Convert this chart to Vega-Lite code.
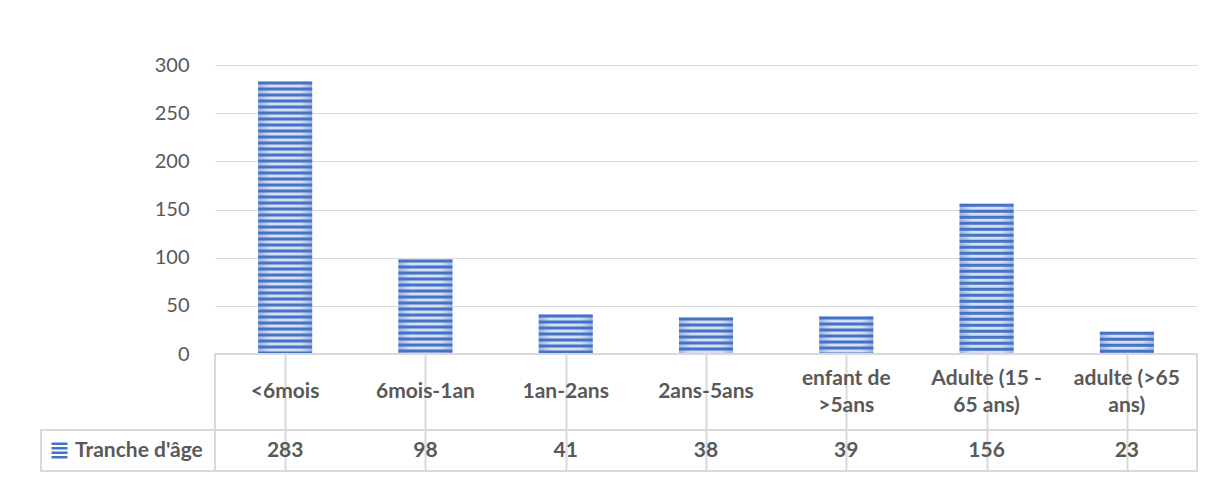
{
  "$schema": "https://vega.github.io/schema/vega-lite/v6.json",
  "background": "white",
  "padding": {"left": 40, "top": 54, "right": 5, "bottom": 5},
  "columns": 2,
  "spacing": 0,
  "bounds": "flush",
  "datasets": {
    "tranches": [
      {"tranche": "<6mois", "libelle": "<6mois", "effectif": 283},
      {"tranche": "6mois-1an", "libelle": "6mois-1an", "effectif": 98},
      {"tranche": "1an-2ans", "libelle": "1an-2ans", "effectif": 41},
      {"tranche": "2ans-5ans", "libelle": "2ans-5ans", "effectif": 38},
      {"tranche": "enfant de >5ans", "libelle": "enfant de\n>5ans", "effectif": 39},
      {"tranche": "Adulte (15 - 65 ans)", "libelle": "Adulte (15 -\n65 ans)", "effectif": 156},
      {"tranche": "adulte (>65 ans)", "libelle": "adulte (>65\nans)", "effectif": 23}
    ]
  },
  "concat": [
    {
      "width": 174,
      "height": 289,
      "data": {"values": []},
      "mark": "point"
    },
    {
      "width": 982,
      "height": 289,
      "data": {"name": "tranches"},
      "encoding": {
        "x": {
          "field": "tranche",
          "type": "nominal",
          "sort": null,
          "scale": {"paddingInner": 0, "paddingOuter": 0},
          "axis": null
        }
      },
      "layer": [
        {
          "mark": {
            "type": "bar",
            "width": 54,
            "fill": {
              "gradient": "linear",
              "x1": 0, "x2": 1, "y1": 0, "y2": 0,
              "stops": [
                {"offset": 0, "color": "#9db3df"},
                {"offset": 0.22, "color": "#d5dff3"},
                {"offset": 0.78, "color": "#d5dff3"},
                {"offset": 1, "color": "#9db3df"}
              ]
            }
          },
          "encoding": {
            "y": {
              "field": "effectif",
              "type": "quantitative",
              "scale": {"domain": [0, 300]},
              "axis": {
                "values": [0, 50, 100, 150, 200, 250, 300],
                "grid": true,
                "gridColor": "#d9d9d9",
                "gridWidth": 1,
                "domain": false,
                "ticks": false,
                "labelFont": "Lato",
                "labelFontSize": 20,
                "labelColor": "#595959",
                "labelPadding": 26,
                "title": null
              }
            }
          }
        },
        {
          "mark": {
            "type": "rule",
            "strokeWidth": 54,
            "strokeDash": [3, 3],
            "strokeCap": "butt",
            "color": "#4472c4"
          },
          "encoding": {
            "y": {"field": "effectif", "type": "quantitative"},
            "y2": {"datum": 0}
          }
        }
      ]
    },
    {
      "width": 174,
      "height": 76,
      "data": {"values": []},
      "mark": "point"
    },
    {
      "width": 982,
      "height": 76,
      "view": {"stroke": "#d9d9d9", "strokeWidth": 2},
      "data": {"name": "tranches"},
      "encoding": {
        "x": {
          "field": "tranche",
          "type": "nominal",
          "sort": null,
          "scale": {"paddingInner": 0, "paddingOuter": 0},
          "axis": {
            "grid": true,
            "gridColor": "#d9d9d9",
            "gridWidth": 2,
            "bandPosition": 0,
            "labels": false,
            "ticks": false,
            "domain": false,
            "title": null
          }
        },
        "text": {"field": "libelle", "type": "nominal"}
      },
      "layer": [
        {
          "transform": [{"filter": "indexof(datum.libelle, '\\n') < 0"}],
          "mark": {
            "type": "text",
            "font": "Lato",
            "fontWeight": "bold",
            "fontSize": 21,
            "color": "#595959"
          }
        },
        {
          "transform": [{"filter": "indexof(datum.libelle, '\\n') >= 0"}],
          "mark": {
            "type": "text",
            "font": "Lato",
            "fontWeight": "bold",
            "fontSize": 21,
            "color": "#595959",
            "lineBreak": "\n",
            "lineHeight": 27,
            "dy": -13.5
          }
        }
      ]
    },
    {
      "width": 174,
      "height": 41,
      "view": {"stroke": "#d9d9d9", "strokeWidth": 2},
      "data": {"values": []},
      "mark": "point"
    },
    {
      "width": 982,
      "height": 41,
      "view": {"stroke": "#d9d9d9", "strokeWidth": 2},
      "layer": [
        {
          "data": {"name": "tranches"},
          "mark": {
            "type": "text",
            "font": "Lato",
            "fontWeight": "bold",
            "fontSize": 21,
            "color": "#595959"
          },
          "encoding": {
            "x": {
              "field": "tranche",
              "type": "nominal",
              "sort": null,
              "scale": {"paddingInner": 0, "paddingOuter": 0},
              "axis": {
                "grid": true,
                "gridColor": "#d9d9d9",
                "gridWidth": 2,
                "bandPosition": 0,
                "labels": false,
                "ticks": false,
                "domain": false,
                "title": null
              }
            },
            "text": {"field": "effectif", "type": "quantitative"}
          }
        },
        {
          "data": {"values": []},
          "mark": {"type": "square"},
          "encoding": {
            "color": {
              "field": "serie",
              "type": "nominal",
              "scale": {"domain": ["Tranche d'âge"], "range": ["#4472c4"]},
              "legend": {
                "orient": "none",
                "legendX": 8,
                "legendY": 375,
                "title": null,
                "padding": 0,
                "symbolType": "M-1,-1H1V-0.7H-1Z M-1,-0.43H1V-0.14H-1Z M-1,0.14H1V0.43H-1Z M-1,0.7H1V1H-1Z",
                "symbolSize": 256,
                "symbolStrokeWidth": 0,
                "symbolOpacity": 1,
                "labelFont": "Lato",
                "labelFontSize": 21,
                "labelFontWeight": "bold",
                "labelColor": "#595959",
                "labelOffset": 5
              }
            }
          }
        }
      ]
    }
  ],
  "config": {
    "font": "Lato",
    "view": {"stroke": null}
  }
}
